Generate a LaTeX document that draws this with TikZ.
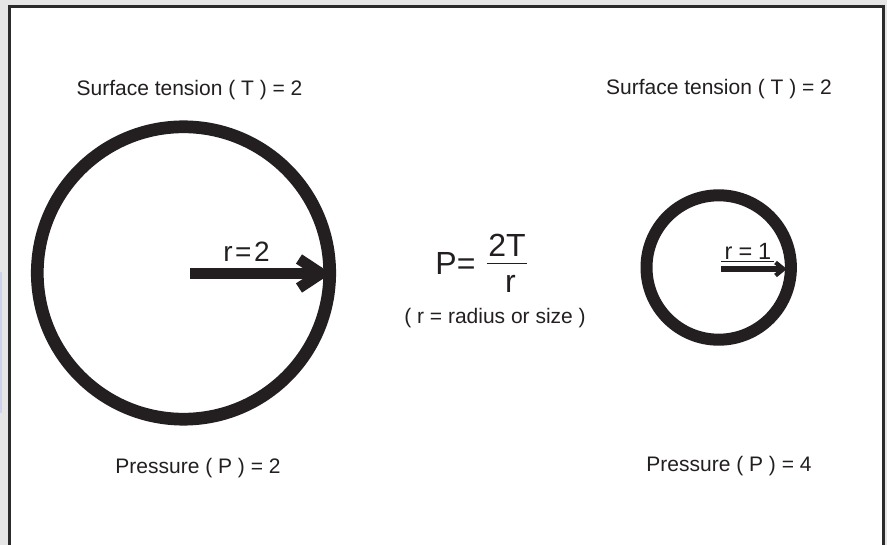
\documentclass[tikz,border=0pt]{standalone}
\usepackage{fontspec}
\setmainfont{Liberation Sans}
\definecolor{ink}{HTML}{231F20}
\definecolor{pagegray}{HTML}{E6E6E6}
\definecolor{framegray}{HTML}{2B2B2B}
\definecolor{stripblue}{HTML}{CDD3EA}
\tikzset{
  ring/.style={draw=ink, line width=#1},
  bar/.style={draw=ink, line width=#1, line cap=butt},
  chev/.style={draw=ink, line width=#1, line join=miter, line cap=butt},
  lbl/.style={text=ink, inner sep=0pt, anchor=base, font=\fontsize{21}{25}\selectfont},
  formula/.style={text=ink, inner sep=0pt, anchor=base, font=\fontsize{32}{36}\selectfont},
}
\begin{document}
\begin{tikzpicture}[x=1pt, y=-1pt]
\useasboundingbox (0,0) rectangle (887,545);
% page and frame
\fill[pagegray] (0,0) rectangle (887,545);
\fill[white] (11,8) rectangle (882,545);
\fill[stripblue] (0,272) rectangle (2,413);
\draw[framegray, line width=3] (9.5,545) -- (9.5,6.5) -- (883,6.5) -- (883,545);

% left circle
\coordinate (c1) at (183.5,273);
\coordinate (a1s) at (190,273.5);
\coordinate (a1e) at (312,273.5);
\coordinate (h1a) at (299,259);
\coordinate (h1t) at (321,273.5);
\coordinate (h1b) at (299,288);
\draw[bar=11] (a1s) -- (a1e);
\draw[chev=11] (h1a) -- (h1t) -- (h1b);
\draw[ring=12.7] (c1) circle[radius=146.2];
\node[text=ink, inner sep=0pt, anchor=base, font=\fontsize{28}{32}\selectfont] (r2) at (246.5,262) {r\kern2.5pt=\kern2.5pt2};

% right circle
\coordinate (c2) at (718.7,267.5);
\coordinate (a2s) at (721,269);
\coordinate (a2e) at (780,269);
\coordinate (h2a) at (775.5,262.5);
\coordinate (h2t) at (783.5,269);
\coordinate (h2b) at (775.5,275.5);
\draw[bar=5.8] (a2s) -- (a2e);
\draw[chev=4.2] (h2a) -- (h2t) -- (h2b);
\draw[ring=12] (c2) circle[radius=72.2];
\node[text=ink, inner sep=0pt, anchor=base, font=\fontsize{23.5}{27}\selectfont] (r1) at (748,259.5) {r\kern6pt=\kern6pt1};
\coordinate (u1s) at (721,261.8);
\coordinate (u1e) at (774,261.8);
\draw[ink, line width=1.3] (u1s) -- (u1e);

% labels
\node[lbl] (stl) at (189.5,96) {Surface tension ( T ) = 2};
\node[lbl] (str) at (719,95) {Surface tension ( T ) = 2};
\node[lbl] (prl) at (198,473.3) {Pressure ( P ) = 2};
\node[lbl] (prr) at (729,471.5) {Pressure ( P ) = 4};

% formula
\node[formula] (peq) at (455.5,275) {P=};
\node[formula] (num) at (507,256.7) {2T};
\node[formula] (den) at (510.5,293) {r};
\coordinate (fb1) at (486.7,263.3);
\coordinate (fb2) at (527.3,263.3);
\draw[ink, line width=1.4] (fb1) -- (fb2);
\node[lbl] (note) at (495,324) {( r = radius or size )};
\end{tikzpicture}
\end{document}
